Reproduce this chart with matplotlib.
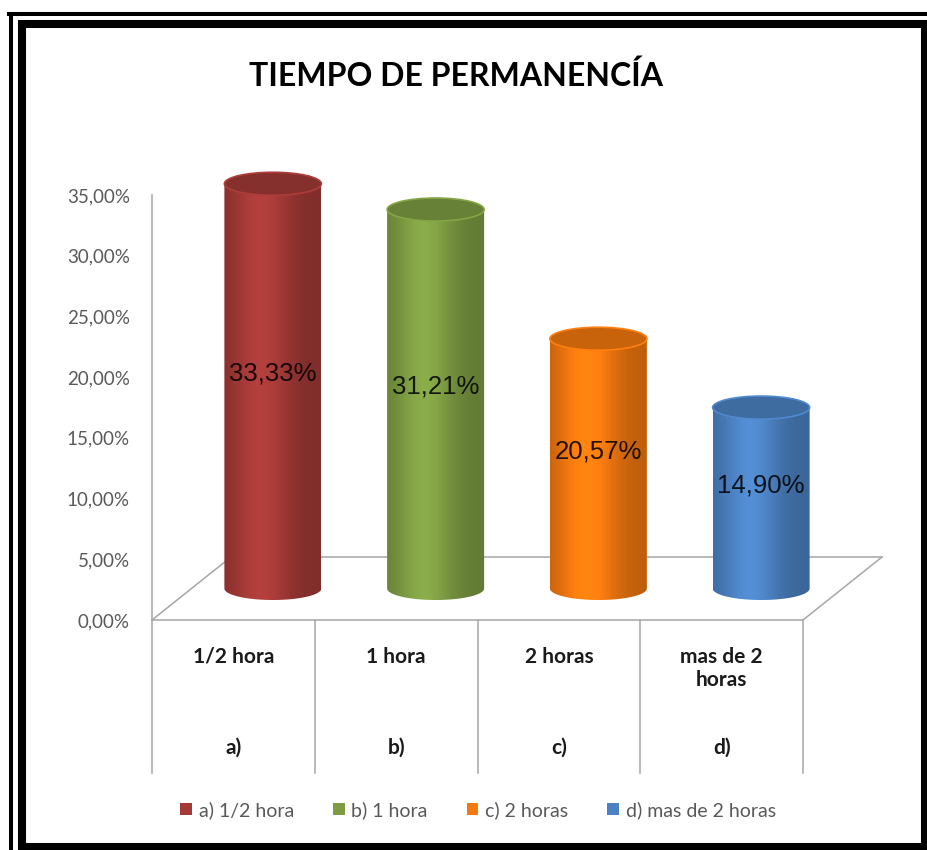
import matplotlib
matplotlib.use('Agg')
import matplotlib.pyplot as plt
import numpy as np
from matplotlib.patches import Polygon, Ellipse, Patch, Rectangle
from matplotlib.lines import Line2D
from matplotlib.colors import to_rgb

categories = ['1/2 hora', '1 hora', '2 horas', 'mas de 2\nhoras']
letters = ['a)', 'b)', 'c)', 'd)']
legend_labels = ['a) 1/2 hora', 'b) 1 hora', 'c) 2 horas', 'd) mas de 2 horas']
values = [33.33, 31.21, 20.57, 14.90]
value_labels = ['33,33%', '31,21%', '20,57%', '14,90%']
yticks = [0, 5, 10, 15, 20, 25, 30, 35]
ytick_labels = ['0,00%', '5,00%', '10,00%', '15,00%', '20,00%', '25,00%', '30,00%', '35,00%']
colors = ['#A43A37', '#7E9D43', '#F4790F', '#4C82C3']

W, H = 927, 850
fig = plt.figure(figsize=(W / 100, H / 100), dpi=100)
fig.patch.set_facecolor('white')

# axes placed so that x=0..4 -> px 152..803 and y=0..35 -> px 620..195
xpx = (803 - 152) / 4
ypx = (620 - 195) / 35
xlim = (-0.6, 4.7)
ylim = (-14, 38)
left = 152 + xlim[0] * xpx
right = 152 + xlim[1] * xpx
bottom = 620 - ylim[0] * ypx
top = 620 - ylim[1] * ypx
ax = fig.add_axes([left / W, (H - bottom) / H, (right - left) / W, (bottom - top) / H])
ax.set_xlim(*xlim)
ax.set_ylim(*ylim)
ax.patch.set_alpha(0)

for s in ['top', 'right', 'bottom']:
    ax.spines[s].set_visible(False)
ax.spines['left'].set_position(('data', 0))
ax.spines['left'].set_bounds(0, 35)
ax.spines['left'].set_color('#A6A6A6')
ax.spines['left'].set_linewidth(1.1)
ax.set_xticks([])
ax.set_yticks(yticks)
ax.set_yticklabels(ytick_labels, family='Lato', fontsize=13.5, color='#595959')
ax.tick_params(axis='y', length=0, pad=16)

grey = '#A6A6A6'
# floor depth
Dx, Dy = 79 / xpx, 63 / ypx
n = len(values)
ax.plot([0, n], [0, 0], color=grey, lw=1.1, zorder=1)
ax.plot([0, Dx], [0, Dy], color=grey, lw=1.1, zorder=1)
ax.plot([Dx, n + Dx], [Dy, Dy], color=grey, lw=1.1, zorder=1)
ax.plot([n, n + Dx], [0, Dy], color=grey, lw=1.1, zorder=1)

# table lines below the axis
for i in range(n + 1):
    ax.plot([i, i], [0, -12.6], color=grey, lw=1.1, zorder=1)

rx = 48.5 / xpx
ry = 11.5 / ypx
t = np.linspace(0, 1, 128)
shade = 0.78 + 0.32 * np.exp(-((t - 0.38) / 0.3) ** 2)

for i, (v, c, lab) in enumerate(zip(values, colors, value_labels)):
    cx = i + 0.5 + Dx / 2
    base = Dy / 2
    topy = base + v
    rgb = np.array(to_rgb(c))
    grad = np.clip(shade[:, None] * rgb[None, :], 0, 1)
    img = np.repeat(grad[None, :, :], 2, axis=0)
    th = np.linspace(0, np.pi, 60)
    pts = np.vstack([[[cx - rx, topy], [cx + rx, topy]],
                     np.column_stack([cx + rx * np.cos(th), base - ry * np.sin(th)])])
    body = Polygon(pts, closed=True, transform=ax.transData, fc='none', ec='none')
    ax.add_patch(body)
    ax.imshow(img, extent=[cx - rx, cx + rx, base - ry, topy], aspect='auto',
              origin='lower', zorder=2, clip_path=body, interpolation='bilinear')
    topc = np.clip(rgb * 0.82, 0, 1)
    ax.add_patch(Ellipse((cx, topy), 2 * rx, 2 * ry, fc=topc,
                         ec=np.clip(rgb * 1.05, 0, 1), lw=1.2, zorder=3))
    ax.text(cx, base + v / 2 + 1, lab, ha='center', va='center', fontsize=18.5,
            family='Liberation Sans', color='black', alpha=0.85, zorder=4)

for i, (cat, let) in enumerate(zip(categories, letters)):
    ax.text(i + 0.5, -2.2, cat, ha='center', va='top', fontsize=15,
            family='Lato', fontweight='bold', color='#1a1a1a', linespacing=1.2)
    ax.text(i + 0.5, -10.5, let, ha='center', va='center', fontsize=15,
            family='Lato', fontweight='bold', color='#1a1a1a')

fig.text(456 / W, 1 - 86 / H, 'TIEMPO DE PERMANENCÍA', ha='center', va='baseline',
         fontsize=23, family='Lato', fontweight='bold', color='black')

handles = [Patch(fc=c, ec='none') for c in colors]
fig.legend(handles, legend_labels, loc='center', bbox_to_anchor=(478 / W, 1 - 810 / H),
           ncol=4, frameon=False, handlelength=0.6, handleheight=0.6,
           handletextpad=0.35, columnspacing=2.0,
           prop={'family': 'Lato', 'size': 14}, labelcolor='#595959')

# picture frame
fig.patches.append(Rectangle((22 / W, 1 - 847 / H), (925 - 22) / W, (847 - 24) / H,
                             transform=fig.transFigure, fill=False, ec='black', lw=5.8))
fig.lines.append(Line2D([10.5 / W, 10.5 / W], [1 - 14 / H, 0], transform=fig.transFigure,
                        color='black', lw=2.9))
fig.lines.append(Line2D([8.5 / W, 1], [1 - 14 / H, 1 - 14 / H], transform=fig.transFigure,
                        color='black', lw=2.9))

fig.savefig('out.png', dpi=100)
